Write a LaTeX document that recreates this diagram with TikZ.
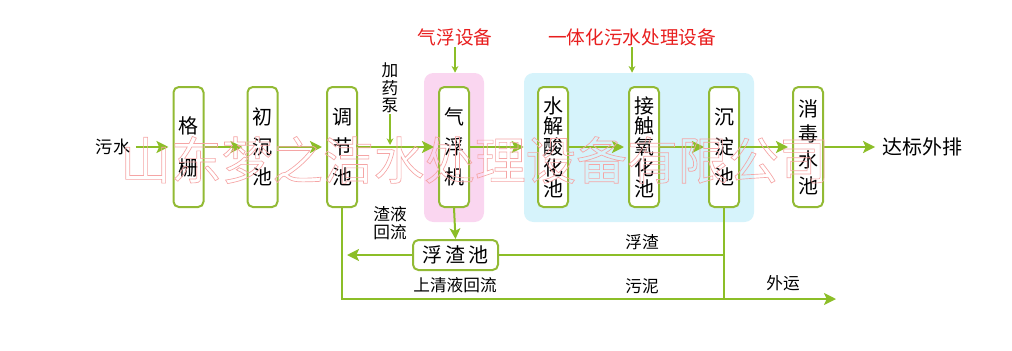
\documentclass[tikz,border=0pt]{standalone}
\usepackage{fontspec}
\setmainfont{Noto Sans CJK SC}
\usetikzlibrary{arrows.meta,positioning}
\definecolor{flowgreen}{RGB}{140,190,40}
\definecolor{tankgreen}{RGB}{146,186,52}
\definecolor{dafpink}{RGB}{250,214,240}
\definecolor{pkgblue}{RGB}{214,243,251}
\definecolor{titlered}{RGB}{232,30,30}
\definecolor{markred}{RGB}{245,165,165}
\newcommand{\outlinetext}[1]{\special{pdf:literal direct 1 Tr 0.5 w}#1\special{pdf:literal direct 0 Tr}}
\tikzset{
  tank/.style     = {draw=tankgreen, line width=1.5pt, rounded corners=4pt,
                     fill=white, minimum width=22.5pt, minimum height=90pt,
                     inner sep=0pt, align=center,
                     font=\fontsize{15}{#1}\selectfont},
  tank/.default   = 22.5pt,
  zone/.style     = {fill=#1, rounded corners=7pt, inner sep=0pt},
  sig/.style      = {-{Stealth[length=9pt,width=9pt,inset=2pt]},
                     line width=2.2pt, flowgreen, shorten >=3pt},
  feed/.style     = {-{Stealth[length=5pt,width=5pt]}, line width=1.1pt, flowgreen},
  retline/.style  = {line width=1.5pt, flowgreen},
  lab/.style      = {align=center, inner sep=1pt, font=\fontsize{12.5}{14}\selectfont},
  redlab/.style   = {text=titlered, inner sep=1pt, font=\fontsize{14}{16}\selectfont},
}
\begin{document}
\begin{tikzpicture}[x=0.75pt,y=-0.75pt]
\useasboundingbox (0,0) rectangle (1012,350);
% equipment zones
\node[zone=dafpink, minimum width=45pt, minimum height=111.75pt] (dafbg) at (454,147.5) {};
\node[zone=pkgblue, minimum width=172.5pt, minimum height=111.75pt] (pkgbg) at (639,147.5) {};
\node[redlab] (dafTitle) at (455,37) {气浮设备};
\node[redlab] (pkgTitle) at (632,37) {一体化污水处理设备};
\draw[feed] (dafTitle.south) -- (dafTitle.south |- dafbg.north);
\draw[feed] (pkgTitle.south) -- (pkgTitle.south |- pkgbg.north);

% main line
\node[lab, font=\fontsize{13}{15}\selectfont] (inflow) at (113,147) {污水};
\node[tank=32pt] (grid) at (188.5,147) {格\\栅};
\node[tank] (prim) at (262.5,147) {初\\沉\\池};
\node[tank] (adj) at (342,147) {调\\节\\池};
\node[tank] (daf) at (454,147) {气\\浮\\机};
\node[tank=15.6pt] (hydro) at (553,147) {水\\解\\酸\\化\\池};
\node[tank=15.6pt] (contact) at (644,147) {接\\触\\氧\\化\\池};
\node[tank] (settle) at (724,147) {沉\\淀\\池};
\node[tank=19.3pt] (disinf) at (808,147) {消\\毒\\水\\池};
\node[lab, font=\fontsize{15}{17}\selectfont] (outflow) at (922,147) {达标外排};

\draw[sig, shorten <=3pt] (inflow) -- (grid);
\draw[sig] (grid) -- (prim);
\draw[sig] (prim) -- (adj);
\draw[sig] (adj) -- (daf);
\draw[sig, shorten >=0pt] (daf.east) -- (daf.east -| pkgbg.west);
\draw[sig] (hydro) -- (contact);
\draw[sig] (contact) -- (settle);
\draw[sig] (settle) -- (disinf);
\draw[sig, shorten >=4pt] (disinf) -- (outflow);

% dosing
\node[lab, font=\fontsize{12.5}{13}\selectfont] (dose) at (390,88) {加\\药\\泵};
\coordinate (dosein) at (390,145);
\draw[feed] (dose.south) -- (dosein);

% scum and sludge
\node[draw=tankgreen, line width=1.5pt, rounded corners=4pt, fill=white,
      minimum width=63.75pt, minimum height=22.5pt, inner sep=0pt,
      font=\fontsize{15}{17}\selectfont] (scum) at (455.5,255) {浮\,渣\,池};
\coordinate (scumret) at (347,255);
\coordinate (sludgeout) at (836,299);
\draw[feed, line width=1.5pt, -{Stealth[length=8pt,width=8pt,inset=2pt]}] (daf.south) -- (scum.north);
\draw[retline] (settle.south) -- (settle.south |- sludgeout);
\draw[retline] (settle.south |- scum.east) -- (scum.east);
\draw[retline, -{Stealth[length=9pt,width=9pt,inset=2pt]}] (scum.west) -- (scumret);
\draw[retline, -{Stealth[length=9pt,width=9pt,inset=2pt]}] (adj.south) |- (sludgeout);

\node[lab] (retlab) at (390,223) {渣液\\回流};
\node[lab] (scumlab) at (642,242) {浮渣};
\node[lab] (clearlab) at (455,285) {上清液回流};
\node[lab] (sludgelab) at (642,286) {污泥};
\node[lab] (awaylab) at (783,283) {外运};

% watermark
\node[text=markred, inner sep=0pt, font=\fontsize{38}{40}\selectfont]
  (mark) at (475,160) {\outlinetext{山东梦之洁水处理设备有限公司}};
\end{tikzpicture}
\end{document}
